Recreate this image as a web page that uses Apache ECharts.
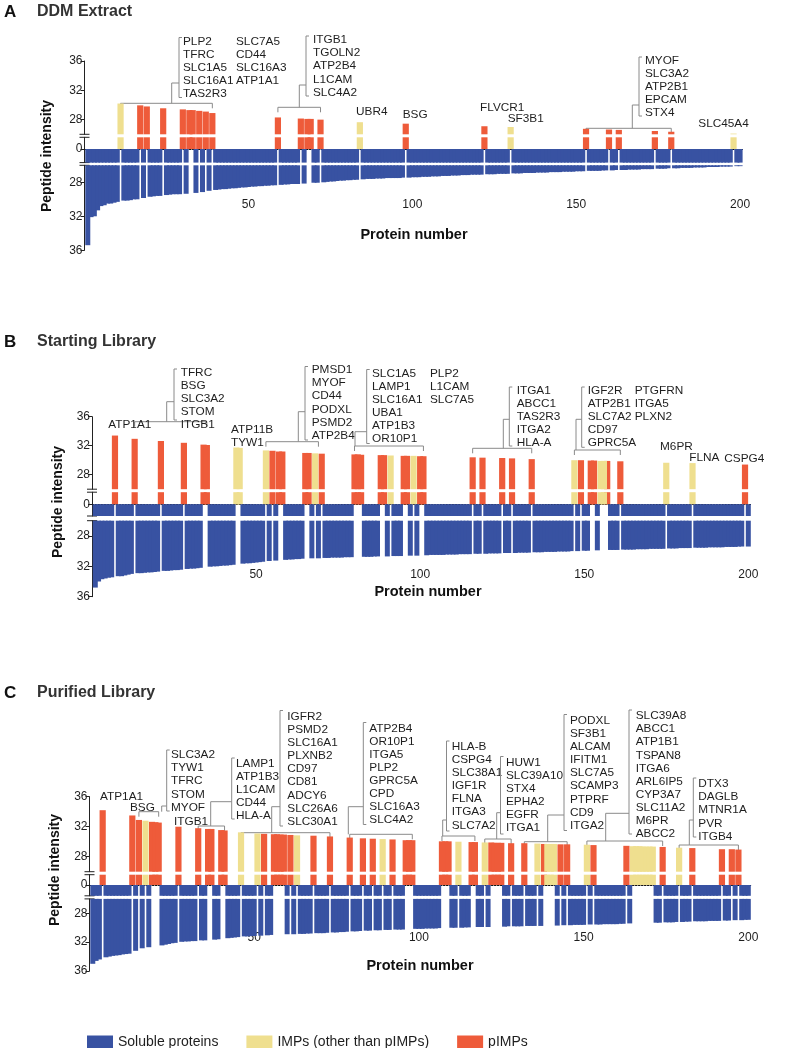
<!DOCTYPE html>
<html><head><meta charset="utf-8">
<script src="https://cdn.jsdelivr.net/npm/echarts@6/dist/echarts.min.js"></script>
<style>html,body{margin:0;padding:0;background:#fff}#c{width:787px;height:1048px}</style>
</head><body><div id="c"></div>
<script>
// ---------------- DATA ----------------
const proteinTicks = [50, 100, 150, 200];
const upperTicks = [28, 32, 36];
const lowerTicks = [28, 32, 36];
const seriesNames = ['Soluble proteins', 'IMPs (other than pIMPs)', 'pIMPs'];

// Panel A: DDM Extract — intensity of protein 1..200 (ranked)
const intensityA = [
35.4,32.1,32.0,31.3,30.8,30.7,30.5,30.5,30.4,30.3,
30.2,30.15,30.15,30.1,30.0,30.0,29.95,29.85,29.8,29.7,
29.65,29.6,29.6,29.55,29.5,29.45,29.4,29.4,29.4,29.4,
29.35,29.3,29.3,29.25,29.2,29.15,29.1,29.0,28.9,28.9,
28.85,28.8,28.8,28.75,28.7,28.7,28.65,28.6,28.6,28.55,
28.5,28.5,28.45,28.45,28.4,28.4,28.35,28.35,28.3,28.3,
28.25,28.25,28.2,28.2,28.2,28.15,28.15,28.1,28.1,28.05,
28.05,28.0,28.0,27.95,27.9,27.9,27.85,27.8,27.8,27.75,
27.75,27.7,27.7,27.65,27.65,27.6,27.6,27.6,27.55,27.55,
27.55,27.5,27.5,27.5,27.5,27.5,27.45,27.45,27.45,27.4,
27.4,27.4,27.35,27.35,27.35,27.3,27.3,27.3,27.25,27.25,
27.25,27.2,27.2,27.2,27.15,27.15,27.15,27.1,27.1,27.1,
27.1,27.1,27.05,27.05,27.05,27.0,27.0,27.0,27.0,27.0,
26.95,26.95,26.95,26.9,26.9,26.9,26.9,26.85,26.85,26.85,
26.85,26.8,26.8,26.8,26.8,26.75,26.75,26.75,26.75,26.7,
26.7,26.7,26.75,26.65,26.65,26.65,26.65,26.6,26.6,26.65,
26.6,26.55,26.6,26.55,26.55,26.5,26.5,26.5,26.5,26.45,
26.45,26.45,26.45,26.45,26.4,26.4,26.4,26.35,26.35,26.35,
26.35,26.3,26.3,26.3,26.3,26.25,26.25,26.25,26.25,26.2,
26.2,26.2,26.2,26.15,26.15,26.15,26.15,26.1,26.1,26.1];
const impA  = [11, 84, 130, 198];
const pimpA = [17,19,24,30,32,33,35,37,39,59,66,68,69,72,98,122,153,160,163,174,179];

// Panel B: Starting Library
const intensityB = [
34.8,34.0,33.7,33.6,33.5,33.45,33.4,33.3,33.3,33.2,
33.1,33.0,32.95,32.9,32.9,32.85,32.8,32.8,32.75,32.7,
32.65,32.6,32.6,32.55,32.5,32.5,32.45,32.4,32.35,32.3,
32.3,32.25,32.2,32.15,32.1,32.05,32.0,32.0,31.95,31.9,
31.9,31.85,31.8,31.75,31.7,31.65,31.6,31.6,31.55,31.5,
31.45,31.4,31.35,31.3,31.3,31.25,31.2,31.2,31.15,31.1,
31.1,31.05,31.05,31.0,31.0,31.0,30.95,30.95,30.95,30.9,
30.9,30.9,30.85,30.85,30.85,30.85,30.8,30.8,30.8,30.8,
30.8,30.75,30.75,30.75,30.75,30.7,30.7,30.7,30.7,30.7,
30.65,30.65,30.65,30.65,30.6,30.6,30.6,30.6,30.6,30.55,
30.55,30.55,30.5,30.5,30.5,30.5,30.5,30.45,30.45,30.45,
30.45,30.4,30.4,30.4,30.4,30.4,30.35,30.35,30.35,30.35,
30.3,30.3,30.3,30.3,30.3,30.25,30.25,30.25,30.25,30.2,
30.2,30.2,30.2,30.15,30.15,30.15,30.15,30.1,30.1,30.1,
30.1,30.05,30.05,30.05,30.05,30.0,30.0,30.0,30.0,29.95,
29.95,29.95,29.95,29.9,29.9,29.9,29.9,29.85,29.85,29.85,
29.85,29.8,29.8,29.8,29.8,29.75,29.75,29.75,29.75,29.7,
29.7,29.7,29.7,29.7,29.65,29.65,29.65,29.65,29.6,29.6,
29.6,29.6,29.6,29.55,29.55,29.55,29.55,29.5,29.5,29.5,
29.5,29.5,29.45,29.45,29.45,29.45,29.4,29.4,29.4,29.4];
const impB  = [44,45,53,68,91,98,147,155,156,175,183];
const pimpB = [7,13,21,28,34,35,55,57,58,65,66,70,80,81,82,88,89,95,96,100,101,
               116,119,125,128,134,149,152,153,157,161,199];

// Panel C: Purified Library
const intensityC = [
35.0,34.6,34.4,34.2,34.1,34.0,33.9,33.85,33.8,33.7,
33.65,33.6,33.5,33.2,32.9,32.85,32.8,32.7,32.65,32.6,
32.55,32.45,32.35,32.25,32.15,32.1,32.0,31.95,31.9,31.9,
31.85,31.85,31.8,31.75,31.75,31.7,31.7,31.65,31.6,31.55,
31.5,31.45,31.4,31.35,31.3,31.25,31.2,31.2,31.15,31.15,
31.1,31.1,31.05,31.05,31.0,31.0,31.0,30.95,30.95,30.9,
30.9,30.9,30.85,30.85,30.85,30.8,30.8,30.8,30.75,30.75,
30.75,30.7,30.7,30.65,30.65,30.6,30.6,30.55,30.55,30.5,
30.5,30.45,30.45,30.4,30.4,30.4,30.35,30.35,30.35,30.3,
30.3,30.3,30.25,30.25,30.25,30.2,30.2,30.2,30.15,30.15,
30.15,30.1,30.1,30.1,30.1,30.05,30.05,30.05,30.05,30.0,
30.0,30.0,30.0,29.95,29.95,29.95,29.95,29.9,29.9,29.9,
29.9,29.9,29.85,29.85,29.85,29.85,29.8,29.8,29.8,29.8,
29.8,29.8,29.75,29.75,29.75,29.75,29.75,29.7,29.7,29.7,
29.7,29.7,29.65,29.65,29.65,29.65,29.6,29.6,29.6,29.6,
29.6,29.55,29.55,29.55,29.55,29.5,29.5,29.5,29.5,29.5,
29.45,29.45,29.45,29.4,29.4,29.4,29.4,29.35,29.35,29.35,
29.35,29.3,29.3,29.3,29.25,29.25,29.25,29.2,29.2,29.2,
29.15,29.15,29.15,29.1,29.1,29.1,29.1,29.05,29.05,29.05,
29.05,29.0,29.0,29.0,29.0,28.95,28.95,28.95,28.9,28.9];
const impC  = [17,46,51,63,89,112,120,136,139,140,141,151,165,166,167,168,169,170,171,179];
const pimpC = [4,13,15,19,20,21,27,33,36,37,40,41,53,56,57,58,59,61,68,73,79,83,86,92,96,97,98,
               107,108,109,116,117,122,123,124,125,128,132,138,143,145,153,163,174,183,192,195,197];

// Gene annotations (groups with brackets, and single labels)
const groupsA = [
 {from:11, to:39, cols:[['PLP2','TFRC','SLC1A5','SLC16A1','TAS2R3'],['SLC7A5','CD44','SLC16A3','ATP1A1']]},
 {from:59, to:72, cols:[['ITGB1','TGOLN2','ATP2B4','L1CAM','SLC4A2']]},
 {from:153, to:179, cols:[['MYOF','SLC3A2','ATP2B1','EPCAM','STX4']]}];
const singlesA = [['UBR4'],['BSG'],['FLVCR1'],['SF3B1'],['SLC45A4']];
const groupsB = [
 {from:13, to:35, cols:[['TFRC','BSG','SLC3A2','STOM','ITGB1']]},
 {from:53, to:69, cols:[['PMSD1','MYOF','CD44','PODXL','PSMD2','ATP2B4']]},
 {from:80, to:101, cols:[['SLC1A5','LAMP1','SLC16A1','UBA1','ATP1B3','OR10P1'],['PLP2','L1CAM','SLC7A5']]},
 {from:116, to:134, cols:[['ITGA1','ABCC1','TAS2R3','ITGA2','HLA-A']]},
 {from:147, to:161, cols:[['IGF2R','ATP2B1','SLC7A2','CD97','GPRC5A'],['PTGFRN','ITGA5','PLXN2']]}];
const singlesB = [['ATP1A1'],['ATP11B','TYW1'],['M6PR'],['FLNA'],['CSPG4']];
const groupsC = [
 {from:15, to:21, cols:[['SLC3A2','TYW1','TFRC','STOM','MYOF']]},
 {from:33, to:41, cols:[['LAMP1','ATP1B3','L1CAM','CD44','HLA-A']]},
 {from:46, to:73, cols:[['IGFR2','PSMD2','SLC16A1','PLXNB2','CD97','CD81','ADCY6','SLC26A6','SLC30A1']]},
 {from:79, to:98, cols:[['ATP2B4','OR10P1','ITGA5','PLP2','GPRC5A','CPD','SLC16A3','SLC4A2']]},
 {from:107, to:117, cols:[['HLA-B','CSPG4','SLC38A1','IGF1R','FLNA','ITGA3','SLC7A2']]},
 {from:120, to:128, cols:[['HUW1','SLC39A10','STX4','EPHA2','EGFR','ITGA1']]},
 {from:132, to:145, cols:[['PODXL','SF3B1','ALCAM','IFITM1','SLC7A5','SCAMP3','PTPRF','CD9','ITGA2']]},
 {from:151, to:174, cols:[['SLC39A8','ABCC1','ATP1B1','TSPAN8','ITGA6','ARL6IP5','CYP3A7','SLC11A2','M6PR','ABCC2']]},
 {from:179, to:197, cols:[['DTX3','DAGLB','MTNR1A','PVR','ITGB4']]}];
const singlesC = [['ATP1A1'],['BSG'],['ITGB1']];

// ---------------- LAYOUT (pixels) ----------------
const XMAX = 200.7;
const panels = [
 {letter:'A', title:'DDM Extract', I:intensityA, imp:impA, pimp:pimpA, groups:groupsA, singles:singlesA,
  g:{L:84.5, s:3.278, uTop:61, u26:134.3, ubTop:137.3, zero:149, ltBot:162.6, l26:165.3, l36:250.3, xLabY:205, xName:[414,235], yName:[47,156], titleY:12},
  gl:[{y:103.3, stem:171.7, jy:83, bx:179, bt:37.5, bb:97.5, ly:41.7, cx:[183,236]},
      {y:107.3, stem:299.3, jy:85, bx:306, bt:36, bb:96, ly:40, cx:[313]},
      {y:128.3, stem:632.3, jy:105, bx:639, bt:57, bb:116, ly:60.7, cx:[645]}],
  sl:[[356,111.7],[402.7,115],[480,107.3],[507.7,119],[698.3,123.3]]},
 {letter:'B', title:'Starting Library', I:intensityB, imp:impB, pimp:pimpB, groups:groupsB, singles:singlesB,
  g:{L:92, s:3.2815, uTop:416.7, u26:489.2, ubTop:492.2, zero:504.3, ltBot:516, l26:520.7, l36:596.7, xLabY:574.3, xName:[428,592], yName:[58,502], titleY:342},
  gl:[{y:421.7, stem:166.7, jy:401.7, bx:174, bt:369, bb:420, ly:372.7, cx:[180.7]},
      {y:441.7, stem:298.3, jy:411.7, bx:305, bt:366.5, bb:440, ly:370, cx:[311.7]},
      {y:446, stem:355, jy:431.7, bx:366.7, bt:369.5, bb:443.5, ly:373.3, cx:[372,430]},
      {y:448.3, stem:503.3, jy:419.3, bx:509.3, bt:387, bb:446, ly:390.7, cx:[516.7]},
      {y:450, stem:576, jy:419.3, bx:581.7, bt:387, bb:447.3, ly:390.7, cx:[587.7,634.7]}],
  sl:[[108.3,425],[231,429.3],[660,446.7],[689.3,457.3],[724.3,458.3]]},
 {letter:'C', title:'Purified Library', I:intensityC, imp:impC, pimp:pimpC, groups:groupsC, singles:singlesC,
  g:{L:89.5, s:3.294, uTop:796.7, u26:871.7, ubTop:874.7, zero:885, ltBot:895.8, l26:898.9, l36:971, xLabY:938, xName:[420,966], yName:[55,870], titleY:693},
  gl:[{y:811.7, stem:161.7, jy:806, bx:166.7, bt:750, bb:811, ly:755, cx:[171]},
      {y:826, stem:210.7, jy:801.7, bx:231.7, bt:758, bb:819, ly:763.3, cx:[236]},
      {y:832.7, stem:271.7, jy:806.7, bx:280, bt:710.5, bb:826, ly:716.7, cx:[287.3]},
      {y:834.3, stem:348.3, jy:806.7, bx:363.3, bt:722.5, bb:824.5, ly:728.3, cx:[369.3]},
      {y:836, stem:442.7, jy:820, bx:446.5, bt:741, bb:831, ly:746.7, cx:[451.7]},
      {y:839, stem:496.7, jy:812.7, bx:500.5, bt:756.5, bb:834, ly:762.7, cx:[506]},
      {y:841.7, stem:547.7, jy:815, bx:564, bt:714.5, bb:830.5, ly:720.7, cx:[570]},
      {y:841, stem:605.7, jy:813.3, bx:629, bt:710, bb:834, ly:716, cx:[635.7]},
      {y:845, stem:689.3, jy:820, bx:693.3, bt:778, bb:837, ly:784, cx:[698.3]}],
  sl:[[100,796.7],[130,807.7],[174,821.7]]}
];

const FONT = '"Liberation Sans", Arial, Helvetica, sans-serif';
const BLUE = '#3852a2', YEL = '#efdf8f', RED = '#ee5b3a';
const TXT = '#1e1e1e', BRK = '#8a8a8a';
const ROW = 13.1;

const chart = echarts.init(document.getElementById('c'));
const grid = [], xAxis = [], yAxis = [], series = [];
const axisBlack = {show:true, lineStyle:{color:'#222', width:1}};

panels.forEach(p => {
  const g = p.g, w = g.s * XMAX;
  p.idx = {};
  const mk = (name, top, h) => { grid.push({left:g.L, top:top, width:w, height:h}); p.idx[name] = grid.length - 1; return grid.length - 1; };
  const gU = mk('U', g.uTop, g.u26 - g.uTop);
  const gUb = mk('Ub', g.ubTop, g.zero - g.ubTop);
  const gLt = mk('Lt', g.zero, g.ltBot - g.zero);
  const gL = mk('L', g.l26, g.l36 - g.l26);
  const gX = mk('X', g.xLabY - 7, 1);
  [gU, gUb, gLt, gL, gX].forEach(gi => {
    const isZero = gi === gUb, isX = gi === gX;
    xAxis.push({type:'value', gridIndex:gi, min:0, max:XMAX, show:isZero || isX,
      axisLine: isZero ? {show:true, lineStyle:{color:'#111', type:[1.5,1.5], width:1.2}} : {show:false},
      axisTick:{show:false}, splitLine:{show:false},
      axisLabel: isX ? {show:true, customValues:proteinTicks, fontFamily:FONT, fontSize:12, color:TXT, margin:0} : {show:false}});
  });
  const yBase = (gi, min, max, inv, vals) => ({type:'value', gridIndex:gi, min, max, inverse:inv,
    axisLine:axisBlack, splitLine:{show:false},
    axisTick:{show:!!vals, length:4, customValues:vals || [], lineStyle:{color:'#222'}},
    axisLabel:{show:!!vals, customValues:vals || [], fontFamily:FONT, fontSize:12, color:TXT, margin:2}});
  yAxis.push(yBase(gU, 26, 36, false, upperTicks));
  yAxis.push(yBase(gUb, 0, 26, false, [0]));
  yAxis.push(yBase(gLt, 0, 26, true, null));
  yAxis.push(yBase(gL, 26, 36, true, lowerTicks));
  yAxis.push({type:'value', gridIndex:gX, min:0, max:1, show:false});

  const impSet = new Set(p.imp), pimpSet = new Set(p.pimp);
  const sol = [], yel = [], red = [];
  p.I.forEach((v, k) => {
    const i = k + 1;
    if (pimpSet.has(i)) red.push([i, v]);
    else if (impSet.has(i)) yel.push([i, v]);
    else sol.push([i, v]);
  });
  const bar = (name, gi, data, color, width) => ({type:'bar', name, xAxisIndex:gi, yAxisIndex:gi, data,
    barWidth:width, barGap:'-100%', clip:true, silent:true, itemStyle:{color}, animation:false});
  [gU, gUb].forEach(gi => {
    series.push(bar(seriesNames[2], gi, red, RED, 6.2));
    series.push(bar(seriesNames[1], gi, yel, YEL, 6.2));
  });
  [gLt, gL].forEach(gi => series.push(bar(seriesNames[0], gi, sol, BLUE, 5.0)));
});

chart.setOption({
  animation:false,
  textStyle:{fontFamily:FONT},
  grid, xAxis, yAxis, series,
  legend:{data:seriesNames, left:82, top:1030, icon:'rect', itemWidth:26, itemHeight:13, itemGap:28,
    textStyle:{fontFamily:FONT, fontSize:14, color:TXT}, selectedMode:false}
});

// ---------------- annotations ----------------
const gfx = [];
const line = (pts) => gfx.push({type:'polyline', shape:{points:pts}, style:{stroke:BRK, lineWidth:1, fill:null}, silent:true});
const text = (t, x, y, opt) => gfx.push(Object.assign({type:'text', x, y, silent:true,
  style:Object.assign({text:t, font:'11.8px ' + FONT, fill:TXT, verticalAlign:'middle', textAlign:'left'}, opt || {})}));

panels.forEach(p => {
  const g = p.g;
  const xi = p.idx.U;
  const px = i => chart.convertToPixel({xAxisIndex:xi}, i);
  text(p.letter, 4, g.titleY, {font:'bold 17px ' + FONT, fill:'#111'});
  text(p.title, 37, g.titleY, {font:'bold 16px ' + FONT, fill:'#333'});
  text('Protein number', g.xName[0], g.xName[1], {font:'bold 14.5px ' + FONT, fill:'#111', textAlign:'center'});
  gfx.push({type:'text', x:g.yName[0], y:g.yName[1], rotation:Math.PI/2, silent:true,
    style:{text:'Peptide intensity', font:'bold 14px ' + FONT, fill:'#111', textAlign:'center', verticalAlign:'middle'}});
  [g.u26, g.ubTop, g.ltBot, g.l26].forEach(y => gfx.push({type:'line', silent:true,
    shape:{x1:g.L - 5, y1:y, x2:g.L + 5, y2:y}, style:{stroke:'#222', lineWidth:1}}));
  p.groups.forEach((gr, k) => {
    const L = p.gl[k];
    const x1 = px(gr.from), x2 = px(gr.to);
    line([[x1, L.y + 5], [x1, L.y], [x2, L.y], [x2, L.y + 5]]);
    line([[L.stem, L.y], [L.stem, L.jy], [L.bx, L.jy]]);
    line([[L.bx + 3, L.bt], [L.bx, L.bt], [L.bx, L.bb], [L.bx + 3, L.bb]]);
    gr.cols.forEach((names, c) => names.forEach((n, r) => text(n, L.cx[c], L.ly + r * ROW)));
  });
  p.singles.forEach((names, k) => names.forEach((n, r) => text(n, p.sl[k][0], p.sl[k][1] + r * ROW)));
});
chart.setOption({graphic:{elements:gfx}});
</script></body></html>
